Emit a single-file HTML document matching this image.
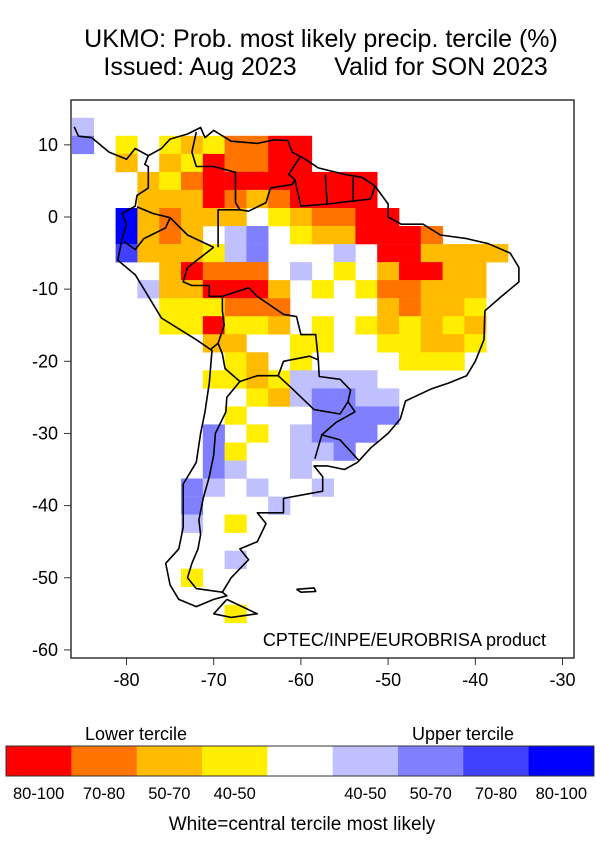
<!DOCTYPE html>
<html><head><meta charset="utf-8"><style>
body{margin:0;background:#fff;}
svg{display:block;font-family:"Liberation Sans",sans-serif;}
</style></head><body>
<svg id="s" width="600" height="850" xmlns="http://www.w3.org/2000/svg">
<rect width="600" height="850" fill="#fff"/>
<text x="321" y="47" font-size="25" text-anchor="middle">UKMO: Prob. most likely precip. tercile (%)</text>
<text x="200" y="75" font-size="25" text-anchor="middle">Issued: Aug 2023</text>
<text x="441" y="75" font-size="25" text-anchor="middle">Valid for SON 2023</text>
<g id="cells"></g>
<g id="coast" fill="none" stroke="#000" stroke-width="1.6" stroke-linejoin="round"></g>
<rect x="71" y="100" width="503" height="558" fill="none" stroke="#333" stroke-width="1.5"/>
<text x="546" y="646" font-size="18" text-anchor="end">CPTEC/INPE/EUROBRISA product</text>
<g id="ticks" font-size="18" stroke="#333"></g>
<text x="136" y="740" font-size="18" text-anchor="middle">Lower tercile</text>
<text x="463" y="740" font-size="18" text-anchor="middle">Upper tercile</text>
<g id="leg"></g>
<text x="302" y="830" font-size="19" text-anchor="middle">White=central tercile most likely</text>
</svg>
<script>
var C={R:"#ff0000",O:"#ff7300",A:"#ffbb00",Y:"#ffee00",l:"#c0c0ff",m:"#8080ff",b:"#4040ff",B:"#0000ff"};
var G=[
"l....................",
"m.Y.YAYOORR..........",
"..A.AYROORR..........",
"...AYORRRRRRRR.......",
"...AAAROAORRRR.......",
"..BAOAAA.YAOORR......",
"..BAOA.lm.YAARRRO....",
"..bAAAYlm...l.RRAAAA.",
"....AROOO.l.Y.ARRAA..",
"...lAARRRA.Y.YOOAAA..",
"....YYYOOO....AOAAY..",
"....YYRYYA.Y.YAYAYA..",
"......AA..YY..YYAAY..",
".......YA.Y....YYY...",
"......YYAYllll.......",
"........YAlmmll......",
".......Y...mmmm......",
"......m.Y.lmmm.......",
"......mY..llm........",
"......ml..l..........",
".....ml.l..l.........",
".....m...l...........",
".....l.Y.............",
".....................",
".......l.............",
".....Y...............",
".....................",
".......Y............."];
function X(lon){return 126.5+(lon+80)*8.72;}
function Y(lat){return 217-lat*7.215;}
var h="";
for(var j=0;j<G.length;j++){for(var p=0;p<21;p++){var c=G[j][p];if(c=="."||!c)continue;
var lon=-85+2.5*p,lat=12.5-2.5*j;var x0=Math.max(71,X(lon-1.25)),x1=X(lon+1.25),y0=Math.max(100,Y(lat+1.25)),y1=Y(lat-1.25);
h+='<rect x="'+x0.toFixed(1)+'" y="'+y0.toFixed(1)+'" width="'+(x1-x0+0.3).toFixed(1)+'" height="'+(y1-y0+0.3).toFixed(1)+'" fill="'+C[c]+'"/>';}}
document.getElementById("cells").innerHTML=h;
function pl(a){var s=[];for(var i=0;i<a.length;i+=2)s.push(X(a[i]).toFixed(1)+","+Y(a[i+1]).toFixed(1));return '<polyline points="'+s.join(" ")+'"/>';}
var lines=[
[-86,12.5,-85.5,11.2,-84,11,-83.5,10.5,-82,9,-80,8,-79,9.5,-77.5,8.5,-76,9.5,-75,10.8,-73,11.5,-71.5,12.4,-71,11,-70,12,-68,10.5,-65,10.2,-63,10.7,-61.5,10.6,-61,9,-59.5,8,-58,6.8,-55,5.9,-53,5.5,-51.5,4.3,-50,1.8,-50,0,-48.5,-1,-46,-1,-44,-2.5,-41,-3,-38.5,-3.7,-36,-5,-35,-7,-35,-9,-37,-11,-38.9,-13,-39,-17,-40,-20,-41,-22,-43,-23,-45,-23.8,-48,-25.5,-48.6,-28,-50,-30,-52,-32,-53.5,-34,-55,-35,-57,-34.5,-58.5,-34.5,-57.5,-36,-57.5,-38,-62,-39,-62,-41,-65,-41,-64,-42.5,-65,-45,-67,-46,-66,-47.5,-68,-50,-69,-52,-68.5,-52.5,-70,-53,-72,-54,-74,-53,-75,-51,-75.5,-48,-74,-46,-73.5,-43,-73.5,-40,-73.5,-37,-72,-34,-71.5,-30,-71,-27,-70.5,-23,-70.2,-18.5,-72,-17,-76,-14,-77,-12,-79,-8,-81,-6,-80.5,-3,-80,-1,-80.5,0.5,-79,1.5,-78.8,3,-77.5,4,-77.5,7,-77.9,7.3,-77.5,8.5],
[-68.5,-53,-65,-55,-68,-55.5,-70,-55,-68.5,-53],
[-60.5,-51.6,-58.5,-51.4,-58.3,-51.9,-60,-52,-60.5,-51.6],
[-72,11.8,-72.5,9,-72,7,-70,7,-67.5,6.2,-67.5,2,-67,1,-69.5,1,-69.5,-4.2],
[-67,1,-66,0.8,-64,2,-63.5,4,-61,4.5,-60.7,5.2,-61.4,5.9,-60,8.5],
[-60.7,5.2,-60,1.5,-57,1.8,-57.2,5.9],[-57,1.8,-54,2.2,-54,5.5],[-54,2.2,-52,2.5,-51.5,4.3],
[-80.3,-3.4,-79,-4.5,-78,-3,-75.5,-1.5,-75,-0.1,-77,0.5,-78.8,1.4],
[-75,-0.1,-73,-2.5,-70,-4.2],
[-70,-4.2,-73,-7,-73.5,-9,-72.5,-9.5,-70.5,-9.5,-70.5,-11,-69,-11],
[-69,-11,-66,-9.8,-65,-11,-62,-13.5,-60.5,-13.8,-60,-16.3,-58.3,-16.3,-58,-19.8,-59,-19.3,-62,-20,-62.6,-22,-65,-22,-67,-22.8,-68.7,-21,-69,-19,-69.5,-17.5,-68.8,-15,-69,-13,-69,-11],
[-70.3,-18.3,-69.5,-17.5],
[-67,-22.8,-68.5,-25,-68.6,-27,-69.8,-30,-70,-33,-70.5,-36,-71.2,-39,-71.7,-42,-71.5,-44,-71.8,-46,-72.5,-48,-73,-50,-72,-51.5,-69,-52],
[-62.6,-22,-61,-23.8,-58.5,-26.7,-55.5,-27.3,-54.6,-25.6,-54.3,-24,-55.5,-22.5,-57.9,-22.1,-58,-19.8],
[-54.6,-25.6,-53.8,-27,-56,-28.5,-57.6,-30.2,-58.4,-33.5],
[-57.6,-30.2,-55.5,-30.9,-53.4,-33.7]];
var c2="";lines.forEach(function(a){c2+=pl(a);});
document.getElementById("coast").innerHTML=c2;
var t="";[-80,-70,-60,-50,-40,-30].forEach(function(v){var x=X(v);t+='<line x1="'+x+'" y1="658" x2="'+x+'" y2="665"/><text stroke="none" x="'+x+'" y="686" text-anchor="middle">'+v+'</text>';});
[10,0,-10,-20,-30,-40,-50,-60].forEach(function(v){var y=Y(v);t+='<line x1="64" y1="'+y+'" x2="71" y2="'+y+'"/><text stroke="none" x="58" y="'+(y+6)+'" text-anchor="end">'+v+'</text>';});
document.getElementById("ticks").innerHTML=t;
var LC=["#ff0000","#ff7300","#ffbb00","#ffee00","#ffffff","#c0c0ff","#8080ff","#4040ff","#0000ff"],LL=["80-100","70-80","50-70","40-50","","40-50","50-70","70-80","80-100"],l="";
var w=(594-6)/9;
for(var i=0;i<9;i++){l+='<rect x="'+(6+i*w)+'" y="746" width="'+(w+0.5)+'" height="30" fill="'+LC[i]+'"/>';l+='<text x="'+(6+i*w+w/2)+'" y="799" font-size="16.5" text-anchor="middle">'+LL[i]+'</text>';}
l+='<rect x="6" y="746" width="588" height="30" fill="none" stroke="#333" stroke-width="1"/>';
document.getElementById("leg").innerHTML=l;
</script>
</body></html>
